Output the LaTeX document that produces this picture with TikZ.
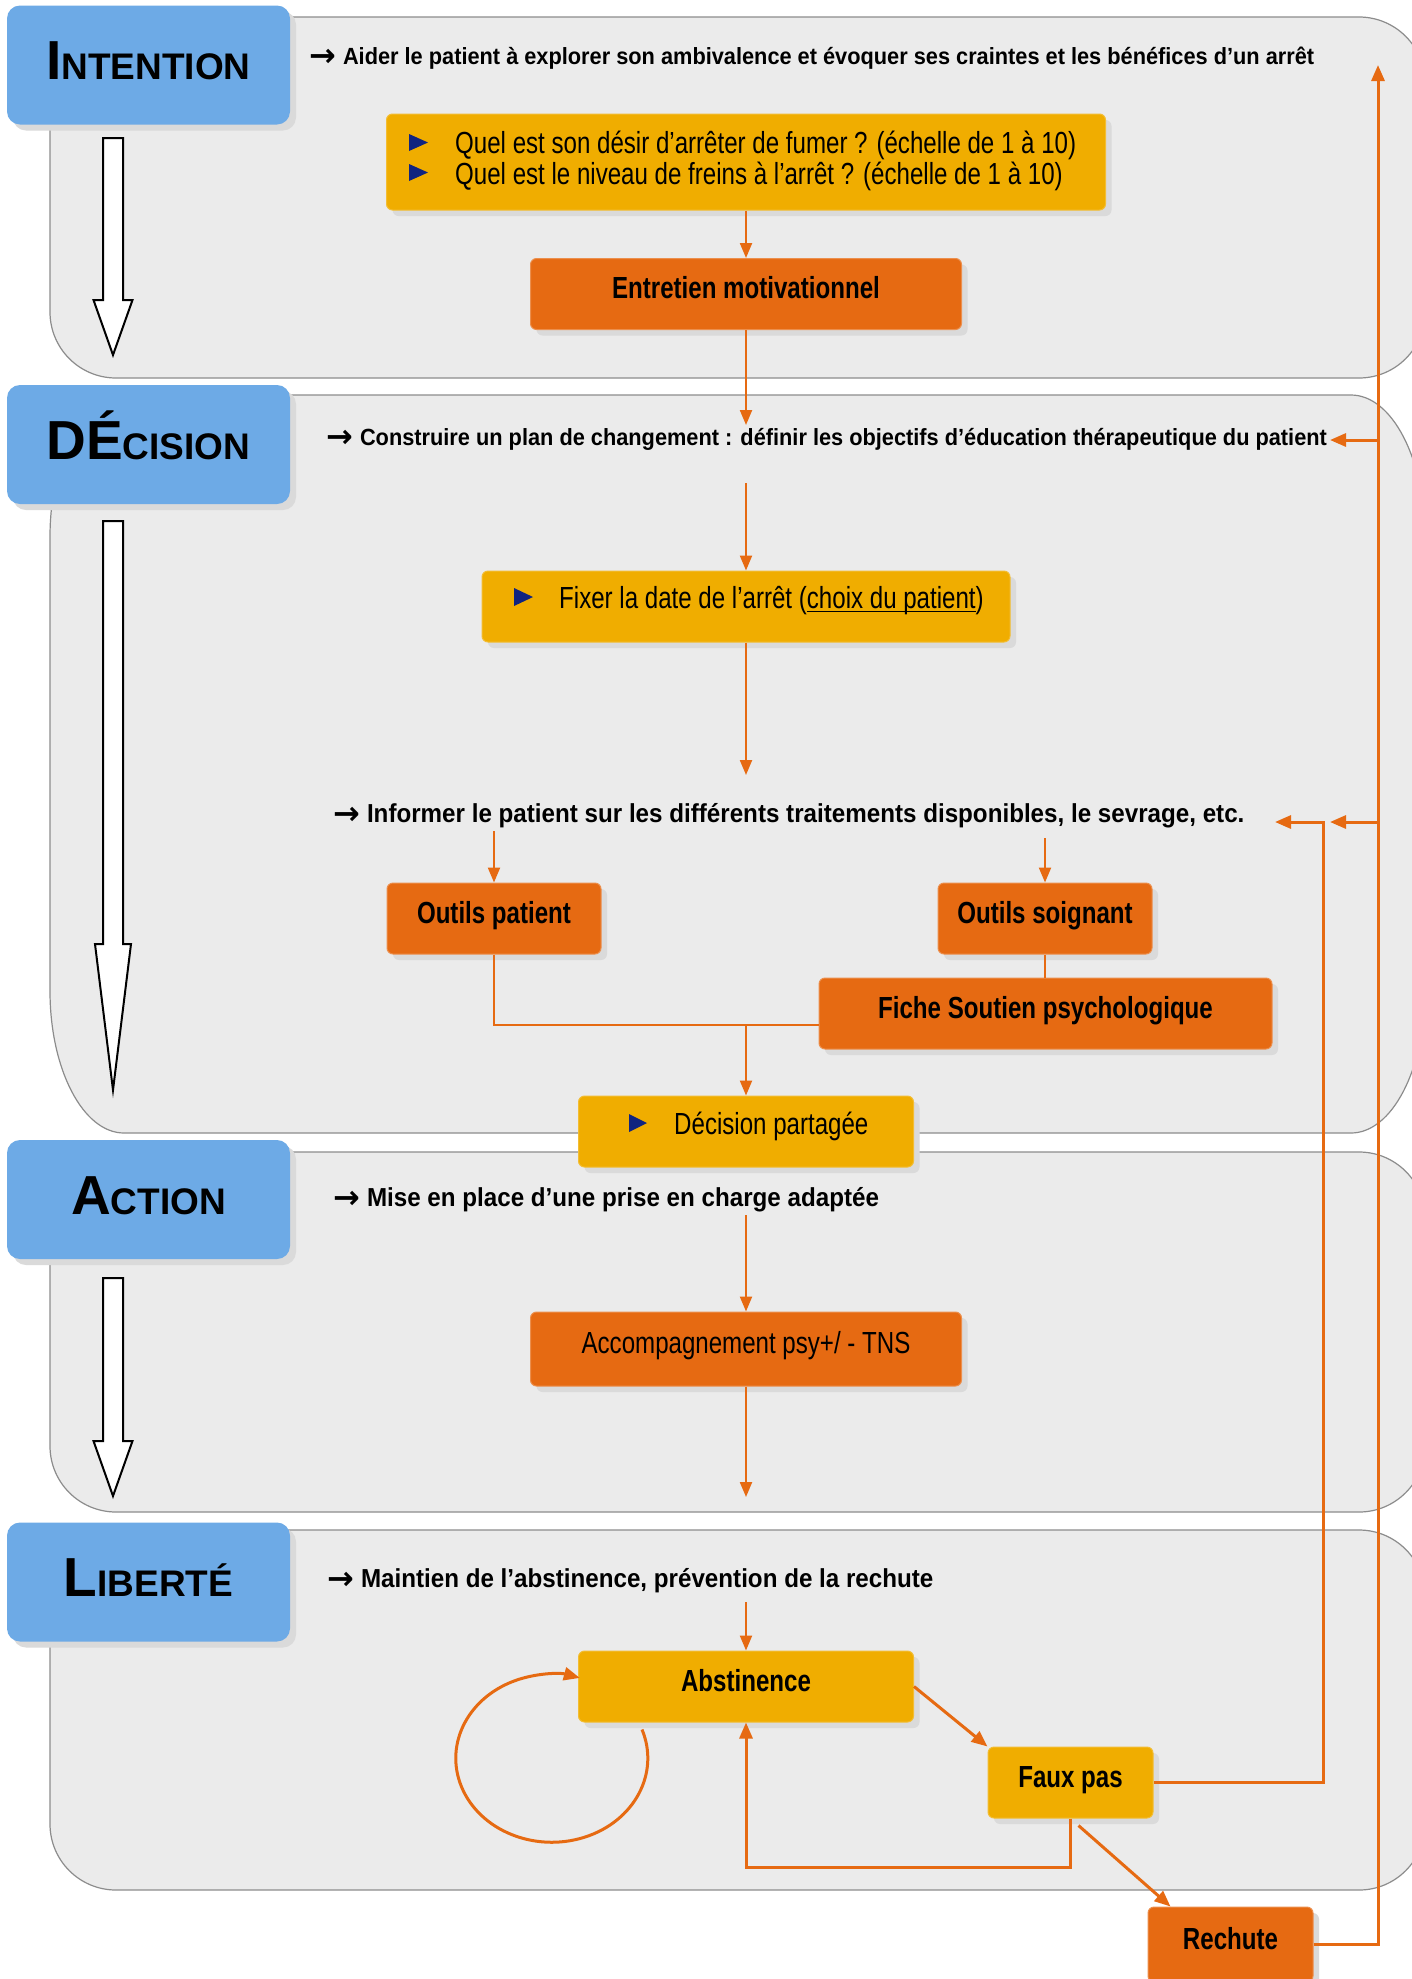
\documentclass[tikz,border=0pt]{standalone}
\usepackage{fontspec}
\setmainfont{Liberation Sans}
\newfontfamily\arrowfont{DejaVu Sans}
\newfontfamily\boxfont{Liberation Sans}[FakeStretch=0.79]
\newfontfamily\linefont{Liberation Sans}[FakeStretch=0.93]
\usetikzlibrary{arrows.meta,shadows,calc}
\definecolor{hblue}{RGB}{109,170,230}
\definecolor{ywl}{RGB}{240,173,0}
\definecolor{org}{RGB}{230,106,18}
\definecolor{pfill}{RGB}{235,235,235}
\definecolor{pline}{RGB}{140,140,140}
\definecolor{shd}{RGB}{218,218,218}
\definecolor{navy}{RGB}{16,36,128}
\newcommand{\hbig}{\fontsize{55}{60}\selectfont}
\newcommand{\hsml}{\fontsize{37}{40}\selectfont}
\newcommand{\rarrow}{\raisebox{-2.5pt}{\arrowfont\bfseries\fontsize{32}{32}\selectfont →}\hspace{7pt}}
\newcommand{\myul}[1]{\setbox0\hbox{#1}\rlap{\rule[-4pt]{\wd0}{1.5pt}}\box0}
\newcommand{\drawpanel}[6]{\path[panel] (#1+#5,#2) -- (#3-#5,#2) arc[start angle=-90,end angle=0,x radius=#5,y radius=#6] -- (#3,#4-#6) arc[start angle=0,end angle=90,x radius=#5,y radius=#6] -- (#1+#5,#4) arc[start angle=90,end angle=180,x radius=#5,y radius=#6] -- (#1,#2+#6) arc[start angle=180,end angle=270,x radius=#5,y radius=#6] -- cycle;}
\newcommand{\blockarr}[4]{\draw[barr] (103,#1) -- (123,#1) -- (123,#2) -- (113+#4,#2) -- (113,#3) -- (113-#4,#2) -- (103,#2) -- cycle;}
\tikzset{
  panel/.style={fill=pfill, draw=pline, line width=1.2pt},
  barr/.style={fill=white, draw=black, line width=2pt, line join=miter},
  shad/.style={drop shadow={shadow xshift=6pt, shadow yshift=-6pt, fill=shd, opacity=1}},
  hdr/.style={shape=rectangle, rounded corners=13pt, fill=hblue, shad, minimum width=283pt, minimum height=119pt, text height=40pt, text depth=11pt, inner sep=0pt, font=\bfseries},
  box/.style={shape=rectangle, rounded corners=6pt, shad, minimum height=71pt, inner sep=0pt, text height=22pt, text depth=13pt, font=\boxfont\fontsize{30.5}{34}\selectfont},
  obox/.style={box, fill=org, draw=org!75!white, line width=1pt, font=\boxfont\fontsize{30.5}{34}\selectfont\bfseries},
  ybox/.style={box, fill=ywl, draw=ywl!80!white, line width=1pt},
  lbl/.style={anchor=base west, inner sep=0pt, font=\linefont\fontsize{26}{30}\selectfont\bfseries},
  lbls/.style={lbl, font=\linefont\fontsize{23.4}{28}\selectfont\bfseries},
  txt/.style={anchor=base west, inner sep=0pt, font=\boxfont\fontsize{30.5}{34}\selectfont},
  con/.style={draw=org, line width=2.2pt},
  arr/.style={con, -{Triangle[length=15pt,width=12pt]}},
  conL/.style={draw=org, line width=3pt},
  arrL/.style={conL, -{Triangle[length=16pt,width=13pt]}}
}
\begin{document}
\begin{tikzpicture}[x=1pt,y=-1pt]
\useasboundingbox (0,0) rectangle (1412,1979);
\fill[white] (0,0) rectangle (1412,1979);
% panels
\drawpanel{50}{17}{1425}{378}{66}{66}
\drawpanel{50}{395}{1425}{1133}{74}{142}
\drawpanel{50}{1152}{1425}{1512}{66}{66}
\drawpanel{50}{1530}{1425}{1890}{66}{66}
% big white arrows
\blockarr{138}{300}{355}{19.5}
\blockarr{521}{944}{1090}{18}
\blockarr{1278}{1441}{1496}{19.5}
% headers
\node[hdr] (hInt) at (148.5,65) {\hbig I\hsml NTENTION};
\node[hdr] (hDec) at (148.5,444.5) {\hbig DÉ\hsml CISION};
\node[hdr] (hAct) at (148.5,1199.5) {\hbig A\hsml CTION};
\node[hdr] (hLib) at (148.5,1582) {\hbig L\hsml IBERTÉ};
% phase lines
\node[lbls] (tInt) at (309,64) {\rarrow Aider le patient à explorer son ambivalence et évoquer ses craintes et les bénéfices d’un arrêt};
\node[lbls] (tDec) at (326,445) {\rarrow Construire un plan de changement : définir les objectifs d’éducation thérapeutique du patient};
\node[lbl] (tInf) at (333,822) {\rarrow Informer le patient sur les différents traitements disponibles, le sevrage, etc.};
\node[lbl] (tAct) at (333,1206) {\rarrow Mise en place d’une prise en charge adaptée};
\node[lbl] (tLib) at (327,1587) {\rarrow Maintien de l’abstinence, prévention de la rechute};
% intention boxes
\node[ybox, minimum width=719pt, minimum height=96pt] (qbox) at (746,162) {};
\fill[navy] (409,134) -- (428,142.5) -- (409,151) -- cycle;
\fill[navy] (409,164) -- (428,172.5) -- (409,181) -- cycle;
\node[txt] (q1) at (455,153) {Quel est son désir d’arrêter de fumer ? (échelle de 1 à 10)};
\node[txt] (q2) at (455,184) {Quel est le niveau de freins à l’arrêt ? (échelle de 1 à 10)};
\node[obox, minimum width=431pt] (ent) at (746,294) {Entretien motivationnel};
% decision boxes
\node[ybox, minimum width=528pt] (fix) at (746,606.5) {};
\fill[navy] (514,588) -- (533,597) -- (514,606) -- cycle;
\node[txt] (fixt) at (559,608) {Fixer la date de l’arrêt (\myul{choix du patient})};
\node[obox, minimum width=214pt] (op) at (494,918.5) {Outils patient};
\node[obox, minimum width=214pt] (os) at (1045,918.5) {Outils soignant};
\node[obox, minimum width=453pt] (fiche) at (1045.5,1013.5) {Fiche Soutien psychologique};
\node[ybox, minimum width=335pt] (dp) at (746,1131.5) {};
\fill[navy] (629,1114) -- (647,1123) -- (629,1132) -- cycle;
\node[txt] (dpt) at (674,1134) {Décision partagée};
% action
\node[obox, minimum width=431pt, minimum height=74pt, font=\boxfont\fontsize{30.5}{34}\selectfont] (acc) at (746,1349) {Accompagnement psy+/ - TNS};
% liberte
\node[ybox, minimum width=335pt, font=\boxfont\fontsize{30.5}{34}\selectfont\bfseries] (abst) at (746,1686.5) {Abstinence};
\node[ybox, minimum width=165pt, font=\boxfont\fontsize{30.5}{34}\selectfont\bfseries] (faux) at (1070.5,1782.5) {Faux pas};
\node[obox, minimum width=165pt, minimum height=75pt] (rech) at (1230.5,1944.5) {Rechute};
% connectors
\coordinate (decTop) at (746,425);
\coordinate (decBot) at (746,483);
\coordinate (infTop) at (746,775);
\coordinate (opS) at (494,831);
\coordinate (osS) at (1045,838);
\coordinate (jn) at (746,1025);
\coordinate (actS) at (746,1215);
\coordinate (actE) at (746,1497);
\coordinate (libS) at (746,1602);
\coordinate (infR) at (1275,822);
\coordinate (inR) at (1323,822);
\coordinate (upTip) at (1378,65);
\coordinate (decR) at (1330,440);
\coordinate (infR2) at (1330,822);
\draw[arr] (qbox.south) -- (ent.north);
\draw[arr] (ent.south) -- (decTop);
\draw[arr] (decBot) -- (fix.north);
\draw[arr] (fix.south) -- (infTop);
\draw[arr] (opS) -- (op.north);
\draw[arr] (osS) -- (os.north);
\draw[con] (os.south) -- (os.south |- fiche.north);
\draw[con] (op.south) |- (jn) -- (jn -| fiche.west);
\draw[arr] (jn) -- (dp.north);
\draw[arr] (actS) -- (acc.north);
\draw[arr] (acc.south) -- (actE);
\draw[arr] (libS) -- (abst.north);
\draw[arrL] (abst.east) -- (faux.north west);
\draw[arrL] (faux.south) -- ++(0,49) -| (abst.south);
\draw[arrL] ([xshift=8pt,yshift=-7pt]faux.south) -- ([xshift=-60pt]rech.north);
\draw[arrL] (faux.east) -| (inR) -- (infR);
\draw[arrL] (rech.east) -| (upTip);
\draw[arrL] (decR -| upTip) -- (decR);
\draw[arrL] (infR2 -| upTip) -- (infR2);
\draw[arrL] ($(abst.south west)+(64,7)$) arc[start angle=-20,end angle=287,x radius=96,y radius=84];
\end{tikzpicture}
\end{document}
